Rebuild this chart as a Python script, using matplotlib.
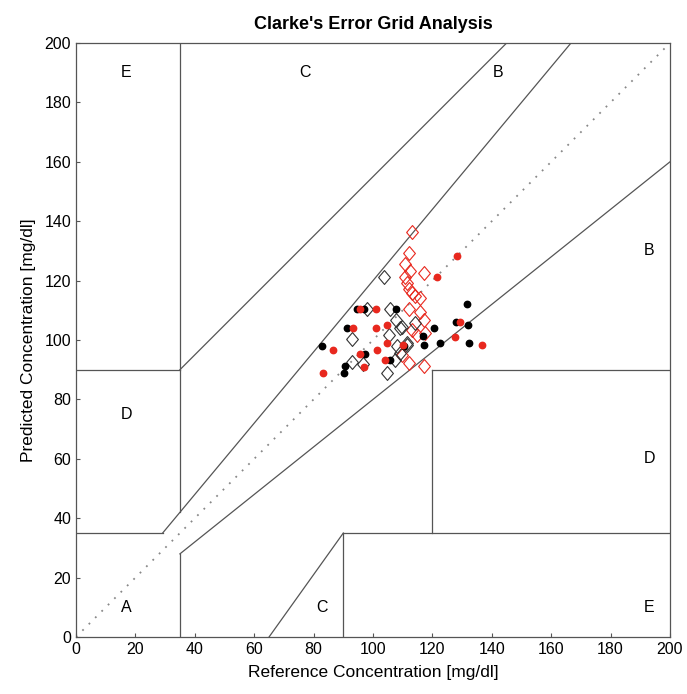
import matplotlib.pyplot as plt

# clarke grid, data
red_dia_x = [113.0, 112.2, 110.8, 112.5, 117.2, 110.8, 111.3, 112.1, 113.3, 114.1, 115.8,
             112.2, 115.8, 117.2, 113.3, 114.9, 117.5, 112.2, 117.2, 109.7]
red_dia_y = [136.3, 129.2, 125.5, 123.3, 122.5, 121.3, 119.1, 117.1, 115.9, 114.8, 114.0,
             110.3, 109.5, 106.9, 103.4, 101.7, 102.2, 92.4, 91.2, 95.0]

blk_dia_x = [103.8, 97.9, 105.7, 107.6, 109.1, 105.5, 93.1, 108.0, 111.3, 109.1, 107.4,
             92.8, 104.6, 109.7, 114.1, 111.3, 96.8]
blk_dia_y = [121.1, 110.3, 110.3, 106.7, 104.2, 101.7, 100.5, 98.0, 98.9, 95.5, 93.3,
             92.7, 89.0, 104.5, 105.6, 98.3, 92.0]

blk_dot_x = [131.5, 127.9, 131.9, 120.5, 116.9, 117.2, 122.6, 132.4, 94.5, 97.0, 107.6,
             91.1, 110.4, 82.7, 97.3, 105.7, 90.6, 90.2]
blk_dot_y = [112.0, 106.2, 105.1, 104.2, 101.3, 98.3, 99.1, 99.1, 110.3, 110.3, 110.3,
             104.2, 98.0, 98.0, 95.2, 93.3, 91.2, 88.8]

red_dot_x = [128.4, 121.4, 129.3, 127.6, 136.8, 110.0, 95.8, 100.9, 93.4, 100.9, 104.8,
             104.8, 86.6, 95.6, 101.5, 104.0, 97.0, 83.3]
red_dot_y = [128.4, 121.1, 106.2, 101.1, 98.3, 98.3, 110.3, 110.3, 104.2, 104.2, 105.2,
             99.1, 96.6, 95.2, 96.6, 93.3, 91.0, 89.0]

# zone boundaries (x pairs, y pairs)
grid_lines = [
    ([0, 29.17], [35, 35]),
    ([29.17, 166.67], [35, 200]),
    ([35, 35], [42, 200]),
    ([0, 35], [90, 90]),
    ([35, 145], [90, 200]),
    ([35, 35], [0, 28]),
    ([35, 200], [28, 160]),
    ([90, 90], [0, 35]),
    ([90, 200], [35, 35]),
    ([120, 120], [35, 90]),
    ([120, 200], [90, 90]),
    ([65, 90], [0, 35]),
]

zone_labels = ["A", "B", "B", "C", "C", "D", "D", "E", "E"]
zone_x = [17, 142, 193, 77, 83, 17, 193, 17, 193]
zone_y = [10, 190, 130, 190, 10, 75, 60, 190, 10]

plt.rcParams['font.family'] = ['Liberation Sans', 'DejaVu Sans']

fig = plt.figure(figsize=(6.87, 6.94), dpi=100)
ax = fig.add_axes([0.1106, 0.0821, 0.8646, 0.8559])

ax.plot([0, 200], [0, 200], linestyle=(0, (1, 4)), color='#888888', linewidth=1.3)
for xs, ys in grid_lines:
    ax.plot(xs, ys, color='#555555', linewidth=0.9)

for lab, x, y in zip(zone_labels, zone_x, zone_y):
    ax.text(x, y, lab, ha='center', va='center', fontsize=11.5)

# slightly tall diamond like the reference
diamond = [(-0.85, 0), (0, 1), (0.85, 0), (0, -1), (-0.85, 0)]

red = '#e8281e'
ax.plot(red_dia_x, red_dia_y, linestyle='none', marker=diamond, markersize=10,
        markerfacecolor='none', markeredgecolor=red, markeredgewidth=0.8)
ax.plot(blk_dia_x, blk_dia_y, linestyle='none', marker=diamond, markersize=10,
        markerfacecolor='none', markeredgecolor='#333333', markeredgewidth=0.8)
ax.plot(blk_dot_x, blk_dot_y, linestyle='none', marker='o', markersize=4.6, color='black')
ax.plot(red_dot_x, red_dot_y, linestyle='none', marker='o', markersize=4.6, color=red)

ax.set_xlim(0, 200)
ax.set_ylim(0, 200)
ax.set_xticks(range(0, 201, 20))
ax.set_yticks(range(0, 201, 20))
ax.tick_params(direction='in', labelsize=11.5, length=3, color='#555555')
for s in ax.spines.values():
    s.set_color('#555555')
    s.set_linewidth(0.9)

ax.set_xlabel("Reference Concentration [mg/dl]", fontsize=12.5, labelpad=6)
ax.set_ylabel("Predicted Concentration [mg/dl]", fontsize=12.5, labelpad=6)
ax.set_title("Clarke's Error Grid Analysis", fontweight='bold', fontsize=13, pad=10)

fig.savefig("out.png", dpi=100)
